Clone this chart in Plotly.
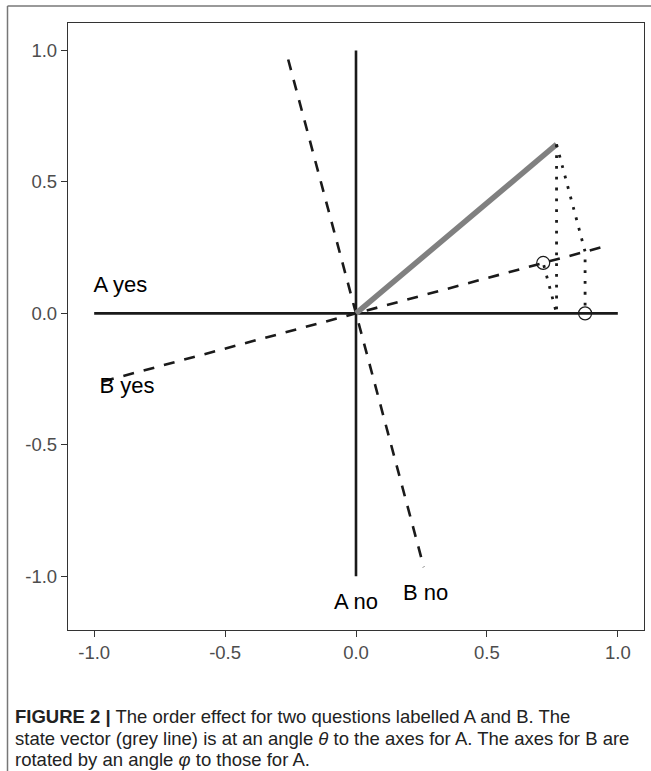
import plotly.graph_objects as go

# ---- data ----
a_axis_x = [-1.0, 1.0]
a_axis_y = [0.0, 0.0]
a_perp_x = [0.0, 0.0]
a_perp_y = [-1.0, 1.0]
b_yes_x = [-0.966, 0.966]
b_yes_y = [-0.259, 0.259]
b_no_x = [-0.259, 0.259]
b_no_y = [0.966, -0.966]
state_x = [0.0, 0.766]
state_y = [0.0, 0.643]
proj1_x = [0.766, 0.766, 0.715]
proj1_y = [0.643, 0.0, 0.192]
proj2_x = [0.766, 0.875, 0.875]
proj2_y = [0.643, 0.235, 0.0]
circle_x = [0.715, 0.875]
circle_y = [0.192, 0.0]
label_text = ["A yes", "B yes", "A no", "B no"]
label_x = [-0.9, -0.875, 0.0, 0.266]
label_y = [0.103, -0.283, -1.105, -1.07]
tick_vals = [-1.0, -0.5, 0.0, 0.5, 1.0]
tick_text = ["-1.0", "-0.5", "0.0", "0.5", "1.0"]
caption_lines = [
    "<b>FIGURE 2 |</b> The order effect for two questions labelled A and B. The",
    "state vector (grey line) is at an angle <i>θ</i> to the axes for A. The axes for B are",
    "rotated by an angle <i>φ</i> to those for A.",
]

BLACK = "#1a1a1a"
fig = go.Figure()

def line(x, y, color=BLACK, width=2.6, dash="solid"):
    fig.add_trace(go.Scatter(x=x, y=y, mode="lines",
                             line=dict(color=color, width=width, dash=dash),
                             hoverinfo="skip", showlegend=False))

line(a_axis_x, a_axis_y)
line(a_perp_x, a_perp_y)
line(b_yes_x, b_yes_y, dash="11px,10px")
line(b_no_x, b_no_y, dash="11px,10px")
line(state_x, state_y, color="#808080", width=5.5)
line(proj1_x, proj1_y, width=2.8, dash="2.8px,8px")
line(proj2_x, proj2_y, width=2.8, dash="2.8px,8px")
fig.add_trace(go.Scatter(x=circle_x, y=circle_y, mode="markers",
                         marker=dict(symbol="circle-open", size=13,
                                     color=BLACK, line=dict(width=1.2)),
                         hoverinfo="skip", showlegend=False))
fig.add_trace(go.Scatter(x=label_x, y=label_y, mode="text", text=label_text,
                         textfont=dict(family="Liberation Sans, Arial", size=22, color="black"),
                         textposition="middle center",
                         hoverinfo="skip", showlegend=False))

# layout geometry
L, R, T, B = 68, 651 - 644, 23, 771 - 630
W, H = 651, 771
pw, ph = W - L - R, H - T - B

axis_common = dict(
    showgrid=False, zeroline=False, showline=True, mirror=True,
    linecolor="#333333", linewidth=1.3,
    ticks="outside", ticklen=6, tickwidth=1.3, tickcolor="#333333",
    tickvals=tick_vals, ticktext=tick_text,
    tickfont=dict(family="Liberation Sans, Arial", size=18.5, color="#4d4d4d"),
)
fig.update_layout(
    width=W, height=H,
    margin=dict(l=L, r=R, t=T, b=B, autoexpand=False),
    paper_bgcolor="white", plot_bgcolor="white",
    xaxis=dict(range=[-1.1, 1.1], **axis_common),
    yaxis=dict(range=[-1.205, 1.105], **axis_common),
)

def px_x(p):
    return (p - L) / pw

def px_y(p):
    return (H - B - p) / ph

# outer frame (top and left edges)
fig.add_shape(type="line", xref="paper", yref="paper",
              x0=px_x(7.5), x1=px_x(660), y0=px_y(6), y1=px_y(6),
              line=dict(color="#777777", width=1.5))
fig.add_shape(type="line", xref="paper", yref="paper",
              x0=px_x(7.5), x1=px_x(7.5), y0=px_y(6), y1=px_y(780),
              line=dict(color="#777777", width=1.5))

# caption
for i, txt in enumerate(caption_lines):
    fig.add_annotation(text=txt, xref="paper", yref="paper",
                       x=px_x(13), y=px_y(716 + 22 * i),
                       xanchor="left", yanchor="middle", showarrow=False,
                       align="left",
                       font=dict(family="Liberation Sans, Arial", size=18.5, color="#222222"))

fig.write_html("out.html",
               config={"displayModeBar": False},
               post_script="document.body.style.margin='0';document.body.style.overflow='hidden';")
